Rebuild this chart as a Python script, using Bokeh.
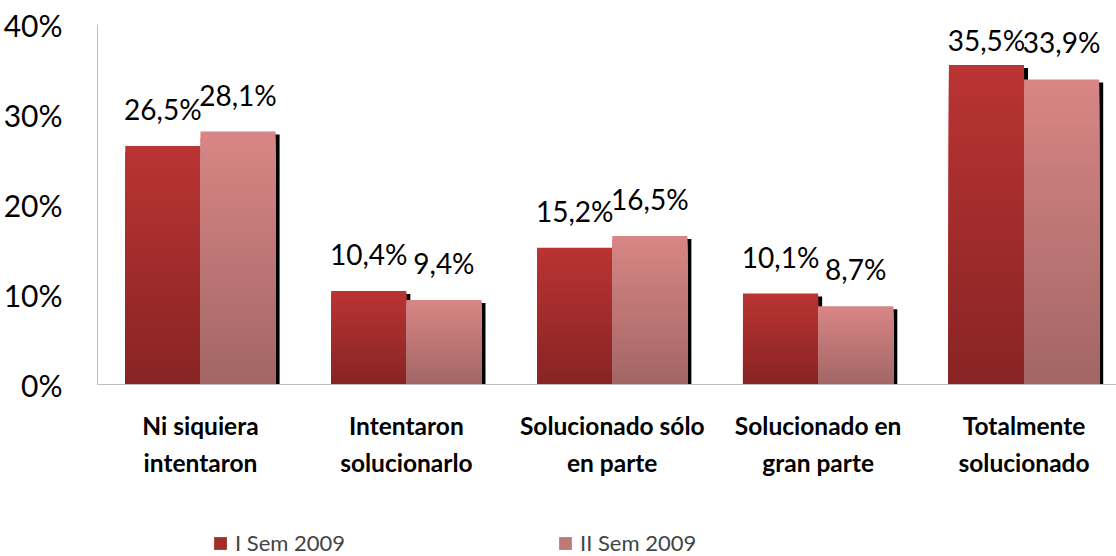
from bokeh.plotting import figure
from bokeh.models import FixedTicker, Range1d, Legend, LegendItem, ColumnDataSource
from bokeh.layouts import column
from bokeh.embed import file_html
from bokeh.resources import INLINE
from bokeh.core.properties import value

categories = ["Ni siquiera\nintentaron", "Intentaron\nsolucionarlo", "Solucionado sólo\nen parte",
              "Solucionado en\ngran parte", "Totalmente\nsolucionado"]
series_names = ["I Sem 2009", "II Sem 2009"]
sem1 = [26.5, 10.4, 15.2, 10.1, 35.5]
sem2 = [28.1, 9.4, 16.5, 8.7, 33.9]
y_ticks = [0, 10, 20, 30, 40]
y_tick_labels = ["0%", "10%", "20%", "30%", "40%"]

FONT = "Lato"
W = 1116
H_MAIN, H_LEG = 500, 56
LEFT, TOP = 94, 24
FRAME_H = 360
p = figure(width=W, height=H_MAIN, output_backend="svg", toolbar_location=None,
           x_range=Range1d(0, 4.949), y_range=Range1d(0, 40),
           min_border_left=LEFT, min_border_right=0, min_border_top=TOP,
           min_border_bottom=H_MAIN - TOP - FRAME_H)
p.outline_line_color = None
p.grid.visible = False
p.background_fill_color = "white"
p.border_fill_color = "white"

# y axis
p.yaxis.ticker = FixedTicker(ticks=y_ticks)
p.yaxis.major_label_overrides = {t: l for t, l in zip(y_ticks, y_tick_labels)}
p.yaxis.major_tick_line_color = None
p.yaxis.minor_tick_line_color = None
p.yaxis.axis_line_color = "#bfbfbf"
p.yaxis.major_label_text_font = FONT
p.yaxis.major_label_text_font_size = "30px"
p.yaxis.major_label_text_color = "#000000"
p.yaxis.major_label_standoff = 29

# x axis
centers = [i + 0.5 for i in range(len(categories))]
p.xaxis.ticker = FixedTicker(ticks=centers)
p.xaxis.major_label_overrides = {c: l for c, l in zip(centers, categories)}
p.xaxis.major_tick_line_color = None
p.xaxis.minor_tick_line_color = None
p.xaxis.axis_line_color = "#bfbfbf"
p.xaxis.major_label_text_font = FONT
p.xaxis.major_label_text_font_style = "bold"
p.xaxis.major_label_text_font_size = "24.5px"
p.xaxis.major_label_text_color = "#000000"
p.xaxis.major_label_standoff = 20
p.xaxis.major_label_text_line_height = 1.28

BW = 0.365
N = 40
px_x = 4.949 / (W - LEFT)
px_y = 40 / float(FRAME_H)

def lerp(c1, c2, t):
    return "#%02x%02x%02x" % tuple(int(round(a + (b - a) * t)) for a, b in zip(c1, c2))

grad = {
    0: ((186, 52, 51), (136, 36, 36)),
    1: ((216, 134, 133), (162, 102, 101)),
}

lefts = {0: [c - BW for c in centers], 1: [c for c in centers]}
vals = {0: sem1, 1: sem2}

# shadows
for s in (0, 1):
    p.quad(left=[l + 4 * px_x for l in lefts[s]], right=[l + BW + 4 * px_x for l in lefts[s]],
           bottom=0, top=[v - 3 * px_y for v in vals[s]], fill_color="black", line_color=None)

for s in (0, 1):
    top_c, bot_c = grad[s]
    for k in range(N):
        frac = (N - k) / N
        t = 1 - (N - k - 0.5) / N
        col = lerp(top_c, bot_c, t)
        p.quad(left=lefts[s], right=[l + BW for l in lefts[s]], bottom=0,
               top=[v * frac for v in vals[s]], fill_color=col, line_color=None)

# value labels (kept inside the plot frame near the top)
def label_offset(v):
    bar_top_px = (40 - v) / px_y          # from frame top
    return max(-37.0, 15.0 - bar_top_px)

for s in (0, 1):
    src = ColumnDataSource(dict(x=[l + BW / 2 for l in lefts[s]], y=vals[s],
                                off=[label_offset(v) for v in vals[s]],
                                t=[("%.1f%%" % v).replace(".", ",") for v in vals[s]]))
    p.text(x="x", y="y", text="t", source=src, text_align="center", text_baseline="alphabetic",
           y_offset="off", text_font=value(FONT), text_font_size="28px", text_color="black")

# legend strip
lf = figure(width=W, height=H_LEG, output_backend="svg", toolbar_location=None,
            x_axis_location=None, y_axis_location=None, x_range=Range1d(0, 1), y_range=Range1d(0, 1),
            min_border=0)
lf.outline_line_color = None
lf.grid.visible = False
leg_r = []
for s in (0, 1):
    top_c, bot_c = grad[s]
    leg_r.append(lf.quad(left=[5], right=[6], top=[6], bottom=[5], fill_color=lerp(top_c, bot_c, 0.45),
                         line_color=None))
legend = Legend(items=[LegendItem(label=series_names[i], renderers=[leg_r[i]]) for i in (0, 1)],
                orientation="horizontal", location=(115, 0), glyph_width=16, glyph_height=16,
                label_text_font=FONT, label_text_font_size="22px", label_standoff=7,
                spacing=212, padding=0, margin=0, border_line_color=None,
                background_fill_alpha=0, label_height=20)
lf.add_layout(legend, "center")

layout = column(p, lf, spacing=0)
open("out.html", "w").write(file_html(layout, INLINE))
